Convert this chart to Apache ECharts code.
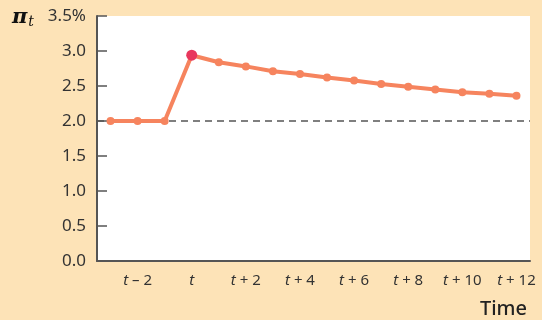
<!DOCTYPE html>
<html>
<head>
<meta charset="utf-8">
<script src="https://cdn.jsdelivr.net/npm/echarts@6/dist/echarts.min.js"></script>
<style>
  html, body { margin: 0; padding: 0; background: #FDE3B7; }
  #chart { width: 542px; height: 320px; }
</style>
</head>
<body>
<div id="chart"></div>
<script>
// Periods relative to t (offset), and inflation values (%)
const periods = [-3, -2, -1, 0, 1, 2, 3, 4, 5, 6, 7, 8, 9, 10, 11, 12];
const inflation = [2.0, 2.0, 2.0, 2.94, 2.84, 2.78, 2.71, 2.67, 2.62, 2.58, 2.53, 2.49, 2.45, 2.41, 2.39, 2.36];
const targetInflation = 2.0;
const yTicks = [0, 0.5, 1.0, 1.5, 2.0, 2.5, 3.0, 3.5];
const shockIndex = 3;

const categories = periods.map(p => String(p));

function periodLabel(v) {
  const p = Number(v);
  if (p === 0) return '{t|t}';
  if (p < 0) return '{t|t}{n| \u2013 ' + (-p) + '}';
  return '{t|t}{n| + ' + p + '}';
}

const chart = echarts.init(document.getElementById('chart'));
const lineColor = '#F6845E';
const axisColor = '#555555';
const textColor = '#333333';
const font = '"Noto Sans", "Open Sans", sans-serif';

chart.setOption({
  backgroundColor: '#FDE3B7',
  animation: false,
  grid: { left: 97, right: 12, top: 16, bottom: 59, containLabel: false,
          show: true, backgroundColor: '#ffffff', borderWidth: 0 },
  xAxis: {
    type: 'category',
    data: categories,
    boundaryGap: true,
    axisLine: { lineStyle: { color: axisColor, width: 2 } },
    axisTick: { inside: true, length: 9, alignWithLabel: true, interval: 0,
                lineStyle: { color: axisColor, width: 1.5 } },
    axisLabel: {
      interval: (i) => i % 2 === 1,
      margin: 12,
      formatter: periodLabel,
      rich: {
        t: { fontStyle: 'italic', fontSize: 15, color: textColor, fontFamily: font },
        n: { fontSize: 15, color: textColor, fontFamily: font }
      }
    },
    splitLine: { show: false }
  },
  yAxis: {
    type: 'value',
    min: yTicks[0],
    max: yTicks[yTicks.length - 1],
    interval: 0.5,
    axisLine: { show: true, lineStyle: { color: axisColor, width: 2 } },
    axisTick: { show: true, inside: true, length: 10, lineStyle: { color: axisColor, width: 1.5 } },
    axisLabel: {
      margin: 11,
      fontSize: 17,
      color: textColor,
      fontFamily: font,
      formatter: (v) => v === yTicks[yTicks.length - 1] ? v.toFixed(1) + '%' : v.toFixed(1)
    },
    splitLine: { show: false }
  },
  series: [{
    type: 'line',
    data: inflation.map((v, i) => i === shockIndex
      ? { value: v, symbolSize: 11, itemStyle: { color: '#E8375C' } }
      : v),
    symbol: 'circle',
    symbolSize: 8,
    lineStyle: { color: lineColor, width: 4 },
    itemStyle: { color: lineColor },
    z: 5,
    markLine: {
      silent: true,
      symbol: ['none', 'none'],
      label: { show: false },
      lineStyle: { color: axisColor, width: 1.5, type: [7, 5] },
      data: [{ yAxis: targetInflation }],
      z: 2
    }
  }],
  graphic: [
    {
      type: 'text',
      left: 12,
      top: 7,
      style: {
        text: '{p|\u03C0}{s|t}',
        rich: {
          p: { fontFamily: '"DejaVu Serif", serif', fontStyle: 'italic', fontWeight: 'bold', fontSize: 21, fill: '#111' },
          s: { fontFamily: '"DejaVu Serif", serif', fontStyle: 'italic', fontSize: 14, fill: '#111', padding: [10, 0, 0, 1] }
        }
      }
    },
    {
      type: 'text',
      right: 15,
      top: 299,
      style: { text: 'Time', fontSize: 20, fontFamily: font, fontWeight: 500, fill: '#222' }
    }
  ]
});
</script>
</body>
</html>
